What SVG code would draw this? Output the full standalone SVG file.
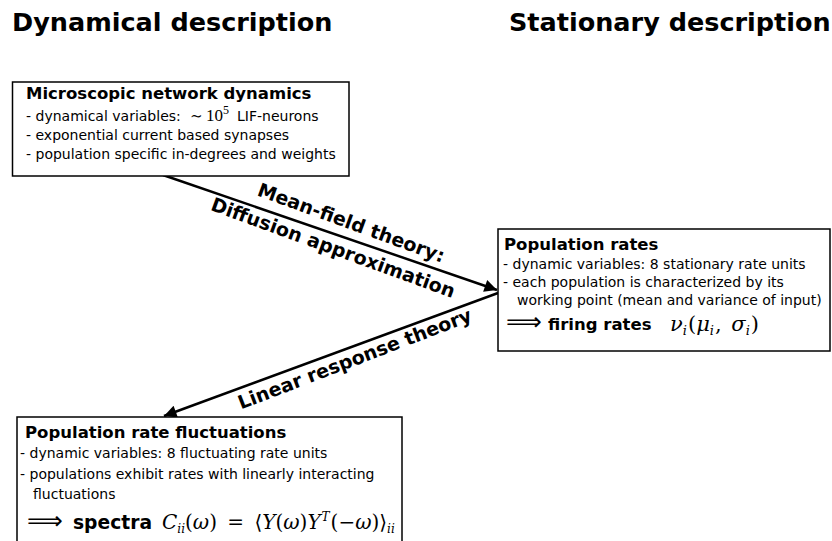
<svg xmlns="http://www.w3.org/2000/svg" width="832" height="541" viewBox="0 0 832 541">
<defs>
<style>
.hd{font-family:"DejaVu Sans",sans-serif;font-weight:bold;font-size:25.5px;fill:#000}
.tt{font-family:"DejaVu Sans",sans-serif;font-weight:bold;font-size:16.5px;fill:#000}
.bd{font-family:"DejaVu Sans",sans-serif;font-size:14px;fill:#000}
.mt{font-family:"DejaVu Serif","Liberation Serif",serif;fill:#000}
.rm{font-family:"Liberation Serif","DejaVu Serif",serif;fill:#000}
.it{font-style:italic}
.ar{font-family:"DejaVu Sans",sans-serif;fill:#000}
.lb{font-family:"DejaVu Sans",sans-serif;font-weight:bold;font-size:19px;fill:#000}
.box{fill:#fff;stroke:#000;stroke-width:1.5}
.con{stroke:#000;stroke-width:2.5;fill:none}
</style>
<marker id="ah" viewBox="0 0 10 10" refX="10" refY="5" markerWidth="7" markerHeight="5" markerUnits="strokeWidth" orient="auto">
<path d="M0,0 L10,5 L0,10 z" fill="#000"/>
</marker>
</defs>
<rect width="832" height="541" fill="#fff"/>
<text class="hd" x="12" y="31">Dynamical description</text>
<text class="hd" x="509" y="31">Stationary description</text>
<g id="connectors">
<line class="con" x1="163" y1="175" x2="497" y2="290" marker-end="url(#ah)"/>
<line class="con" x1="498" y1="293" x2="164" y2="416" marker-end="url(#ah)"/>
<text class="lb" text-anchor="middle" transform="translate(349,229) rotate(20)">Mean-field theory:</text>
<text class="lb" text-anchor="middle" transform="translate(331,254) rotate(20)">Diffusion approximation</text>
<text class="lb" text-anchor="middle" transform="translate(357,365) rotate(-21)">Linear response theory</text>
</g>
<g id="microscopic">
<rect class="box" x="12.5" y="82" width="336.5" height="94"/>
<text class="tt" x="26" y="99">Microscopic network dynamics</text>
<text class="bd" x="26" y="121">- dynamical variables:<tspan class="mt" style="font-size:15px" x="190">∼</tspan><tspan class="rm" style="font-size:17px" x="206">10</tspan><tspan class="rm" style="font-size:12px" dy="-7">5</tspan><tspan x="237" dy="7">LIF-neurons</tspan></text>
<text class="bd" x="26" y="140">- exponential current based synapses</text>
<text class="bd" x="26" y="159">- population specific in-degrees and weights</text>
</g>
<g id="population-rates">
<rect class="box" x="498" y="229" width="332" height="122"/>
<text class="tt" x="504" y="250">Population rates</text>
<text class="bd" x="503" y="269">- dynamic variables: 8 stationary rate units</text>
<text class="bd" x="503" y="287">- each population is characterized by its</text>
<text class="bd" x="517" y="305">working point (mean and variance of input)</text>
<text class="ar" x="506" y="330" style="font-size:25px">⟹</text>
<text class="tt" x="548" y="330">firing rates</text>
<text class="mt" x="670" y="331" style="font-size:21px"><tspan class="it">ν</tspan><tspan class="it" style="font-size:13px" dy="4">i</tspan><tspan dy="-4" dx="1">(</tspan><tspan class="it">μ</tspan><tspan class="it" style="font-size:13px" dy="4">i</tspan><tspan dy="-4" dx="1">, </tspan><tspan class="it" dx="3">σ</tspan><tspan class="it" style="font-size:13px" dy="4">i</tspan><tspan dy="-4" dx="1">)</tspan></text>
</g>
<g id="fluctuations">
<rect class="box" x="17" y="417" width="385" height="140"/>
<text class="tt" x="25" y="438">Population rate fluctuations</text>
<text class="bd" x="20" y="458">- dynamic variables: 8 fluctuating rate units</text>
<text class="bd" x="20" y="479">- populations exhibit rates with linearly interacting</text>
<text class="bd" x="33" y="499">fluctuations</text>
<text class="ar" x="27" y="529" style="font-size:25px">⟹</text>
<text class="tt" x="73" y="529" style="font-size:18.7px">spectra</text>
<text class="mt" x="162" y="529" style="font-size:20px"><tspan class="it">C</tspan><tspan class="it" style="font-size:12px" dy="4">ii</tspan><tspan dy="-4">(</tspan><tspan class="it">ω</tspan><tspan>) </tspan><tspan dx="4">= </tspan><tspan dx="4">⟨</tspan><tspan class="it">Y</tspan><tspan>(</tspan><tspan class="it">ω</tspan><tspan>)</tspan><tspan class="it">Y</tspan><tspan class="it" style="font-size:12px" dy="-8" dx="1">T</tspan><tspan dy="8" dx="1">(−</tspan><tspan class="it">ω</tspan><tspan>)⟩</tspan><tspan class="it" style="font-size:12px" dy="4">ii</tspan></text>
</g>
</svg>
